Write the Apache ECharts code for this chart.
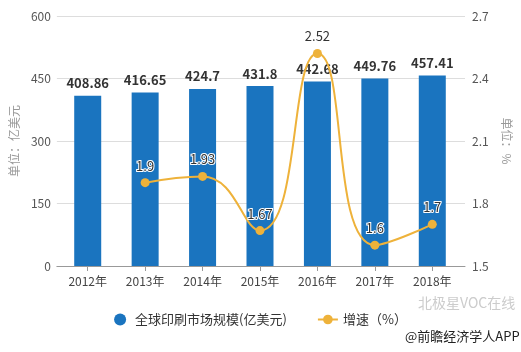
<!DOCTYPE html>
<html>
<head>
<meta charset="utf-8">
<script src="https://cdn.jsdelivr.net/npm/echarts@6/dist/echarts.min.js"></script>
<style>
  html, body { margin: 0; padding: 0; background: #fff; }
  #main { width: 521px; height: 352px; }
</style>
</head>
<body>
<div id="main"></div>
<script>
var years = ['2012年', '2013年', '2014年', '2015年', '2016年', '2017年', '2018年']
var marketSize = [408.86, 416.65, 424.7, 431.8, 442.68, 449.76, 457.41]
var growth = ['-', 1.9, 1.93, 1.67, 2.52, 1.6, 1.7]

var font = '"Microsoft YaHei", "Noto Sans CJK SC", sans-serif'
var chart = echarts.init(document.getElementById('main'))

var option = {
    textStyle: { fontFamily: font },
    grid: [
        { left: 48, right: 49, top: 16, bottom: 86 },
        { left: 59, right: 60, top: 16, bottom: 86 }
    ],
    legend: {
        bottom: 21,
        left: 'center',
        itemGap: 30,
        itemWidth: 20,
        itemHeight: 12,
        textStyle: { fontSize: 13, color: '#333', fontFamily: font },
        data: [
            { name: '全球印刷市场规模(亿美元)', icon: 'circle' },
            { name: '增速（%）' }
        ]
    },
    xAxis: [
        {
            gridIndex: 0, type: 'category', data: years,
            axisLine: { lineStyle: { color: '#999' } },
            axisTick: { show: false }, axisLabel: { show: false }
        },
        {
            gridIndex: 1, type: 'category', data: years,
            axisLine: { show: false },
            axisTick: { show: true, alignWithLabel: true, length: 5, lineStyle: { color: '#999' } },
            axisLabel: { color: '#444', fontSize: 12, margin: 9 }
        }
    ],
    yAxis: [
        {
            gridIndex: 0, type: 'value', min: 0, max: 600, interval: 150,
            name: '单位：亿美元', nameLocation: 'middle', nameGap: 32,
            nameTextStyle: { color: '#999', fontSize: 12 },
            axisLine: { show: false }, axisTick: { show: false },
            axisLabel: { color: '#555', fontSize: 12, margin: 6 },
            splitLine: { lineStyle: { color: '#ddd' } }
        },
        {
            gridIndex: 0, type: 'value', min: 1.5, max: 2.7, interval: 0.3,
            position: 'right',
            name: '单位：%', nameLocation: 'middle', nameGap: 36, nameRotate: -90,
            nameTextStyle: { color: '#999', fontSize: 12 },
            axisLine: { show: false }, axisTick: { show: false },
            axisLabel: { color: '#555', fontSize: 12, margin: 7, formatter: function (v) { return v.toFixed(1) } },
            splitLine: { show: false }
        },
        { gridIndex: 1, type: 'value', min: 0, max: 600, show: false },
        { gridIndex: 1, type: 'value', min: 1.5, max: 2.7, show: false }
    ],
    series: [
        {
            name: '全球印刷市场规模(亿美元)',
            type: 'bar',
            xAxisIndex: 1, yAxisIndex: 2,
            barWidth: 27,
            data: marketSize,
            itemStyle: { color: '#1a74bf' },
            label: {
                show: true, position: 'top', distance: 6,
                color: '#333', fontSize: 13, fontWeight: 'bold'
            }
        },
        {
            name: '增速（%）',
            type: 'line',
            xAxisIndex: 1, yAxisIndex: 3,
            smooth: true,
            data: growth,
            symbol: 'circle', symbolSize: 9,
            itemStyle: { color: '#eeb23a' },
            lineStyle: { color: '#eeb23a', width: 2 },
            label: {
                show: true, position: 'top', distance: 6,
                color: '#333', fontSize: 13,
                textBorderColor: '#fff', textBorderWidth: 2
            }
        }
    ],
    graphic: [
        {
            type: 'text', left: 418, top: 296,
            style: { text: '北极星VOC在线', fill: '#ccc', fontSize: 14, fontFamily: font }
        },
        {
            type: 'text', left: 405, top: 330,
            style: { text: '@前瞻经济学人APP', fill: '#222', fontSize: 13, fontFamily: font }
        }
    ]
}
chart.setOption(option)
</script>
</body>
</html>
